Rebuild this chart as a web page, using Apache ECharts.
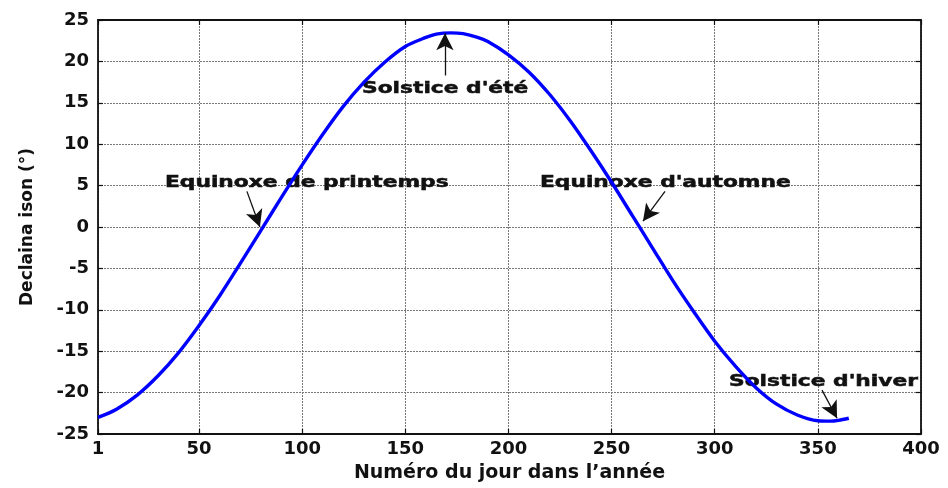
<!DOCTYPE html>
<html>
<head>
<meta charset="utf-8">
<script src="https://cdn.jsdelivr.net/npm/echarts@6/dist/echarts.min.js"></script>
<style>
  html, body { margin: 0; padding: 0; background: #fff; }
  #chart { width: 948px; height: 488px; }
</style>
</head>
<body>
<div id="chart"></div>
<script>
// day of year and declination
const days = [1, 10, 20, 30, 40, 50, 60, 70, 80, 90, 100, 110, 120, 130, 140, 150, 160, 165, 172,
  178, 185, 190, 200, 210, 220, 230, 240, 250, 260, 270, 280, 290, 300, 310, 320, 330, 340, 350, 356, 360, 365];
const declination = [-23.0, -22.0, -20.3, -18.0, -15.2, -11.9, -8.3, -4.4, -0.4, 3.6, 7.5, 11.2, 14.6, 17.5, 19.9, 21.8, 22.9, 23.3, 23.45,
  23.35, 22.9, 22.4, 20.8, 18.7, 16.0, 12.8, 9.2, 5.4, 1.4, -2.6, -6.6, -10.3, -13.8, -16.8, -19.4, -21.4, -22.7, -23.4, -23.45, -23.35, -23.1];

const xTicks = [1, 50, 100, 150, 200, 250, 300, 350, 400];

// annotation arrows: [tail, tip] in data coordinates
const arrows = [
  [[73.2, 4.3], [79.5, 0.0]],
  [[169.2, 18.3], [169.2, 23.4]],
  [[275.9, 4.3], [265.2, 0.7]],
  [[352.0, -19.7], [359.3, -23.1]]
];

const notes = [
  { text: 'Equinoxe de printemps', x: 165, y: 183 },
  { text: "Solstice d'été", x: 362, y: 89 },
  { text: "Equinoxe d'automne", x: 540, y: 183 },
  { text: "Solstice d'hiver", x: 729, y: 382 }
];

const FONT = 'DejaVu Sans';
const chart = echarts.init(document.getElementById('chart'));

const gridLine = { show: true, lineStyle: { color: '#777', width: 1, type: [2, 1] } };
const axisLineStyle = { show: true, onZero: false, lineStyle: { color: '#111', width: 1.8 } };
const innerTick = { show: true, inside: true, length: 5, lineStyle: { color: '#111', width: 1.2 } };

chart.setOption({
  backgroundColor: '#fff',
  animation: false,
  grid: { left: 98, right: 27, top: 20, bottom: 52 },
  xAxis: [
    {
      type: 'value',
      min: 1,
      max: 400,
      position: 'bottom',
      name: 'Numéro du jour dans l’année',
      nameLocation: 'middle',
      nameGap: 30,
      nameTextStyle: { fontFamily: FONT, fontWeight: 'bold', fontSize: 19, color: '#111' },
      axisLine: axisLineStyle,
      axisTick: Object.assign({ customValues: xTicks }, innerTick),
      axisLabel: { customValues: xTicks, margin: 6, fontFamily: FONT, fontWeight: 'bold', fontSize: 18, color: '#111' },
      splitLine: gridLine
    },
    {
      type: 'value',
      min: 1,
      max: 400,
      position: 'top',
      axisLine: axisLineStyle,
      axisTick: Object.assign({ customValues: xTicks }, innerTick),
      axisLabel: { show: false },
      splitLine: { show: false }
    }
  ],
  yAxis: [
    {
      type: 'value',
      min: -25,
      max: 25,
      interval: 5,
      position: 'left',
      name: 'Declaina ison (°)',
      nameLocation: 'middle',
      nameGap: 62,
      nameTextStyle: { fontFamily: FONT, fontWeight: 'bold', fontSize: 17, color: '#111' },
      axisLine: axisLineStyle,
      axisTick: innerTick,
      axisLabel: { margin: 9, fontFamily: FONT, fontWeight: 'bold', fontSize: 18, color: '#111' },
      splitLine: gridLine
    },
    {
      type: 'value',
      min: -25,
      max: 25,
      interval: 5,
      position: 'right',
      axisLine: axisLineStyle,
      axisTick: innerTick,
      axisLabel: { show: false },
      splitLine: { show: false }
    }
  ],
  series: [
    {
      type: 'line',
      z: 3,
      data: days.map((d, i) => [d, declination[i]]),
      smooth: 0.3,
      showSymbol: false,
      lineStyle: { color: '#0000ff', width: 3.4 },
      markLine: {
        silent: true,
        symbol: ['none', 'arrow'],
        symbolSize: [13, 17],
        label: { show: false },
        lineStyle: { color: '#111', width: 1.3, type: 'solid' },
        data: arrows.map(a => [{ coord: a[0] }, { coord: a[1] }])
      }
    }
  ],
  graphic: notes.map(n => ({
    type: 'text',
    x: n.x,
    y: n.y,
    scaleX: 1.45,
    z: 1,
    style: {
      text: n.text,
      fontFamily: FONT,
      fontWeight: 'bold',
      fontSize: 15,
      fill: '#111',
      stroke: '#111',
      lineWidth: 0.5,
      textAlign: 'left',
      textVerticalAlign: 'middle'
    }
  }))
});
</script>
</body>
</html>
